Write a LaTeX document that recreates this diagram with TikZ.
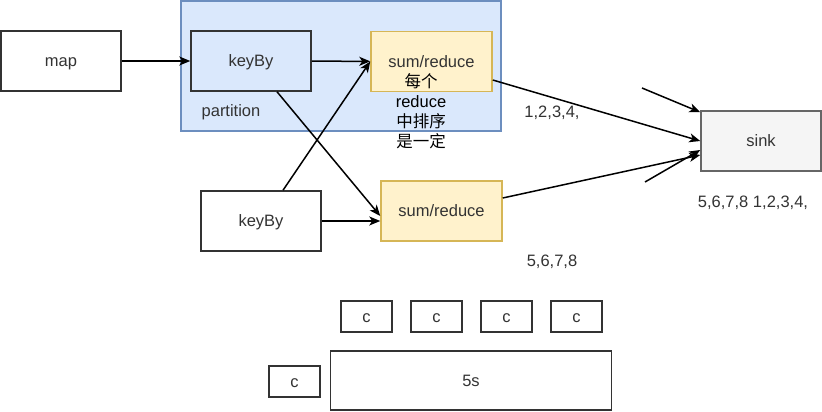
\documentclass[tikz,border=0pt]{standalone}
\usepackage{fontspec}
\setmainfont{Liberation Sans}
\newfontfamily\cjk{Noto Sans CJK SC}
\usetikzlibrary{arrows.meta,positioning}
\definecolor{partfill}{HTML}{DAE8FC}
\definecolor{partdraw}{HTML}{6C8EBF}
\definecolor{opfill}{HTML}{FFF2CC}
\definecolor{opdraw}{HTML}{D6B656}
\definecolor{sinkfill}{HTML}{F5F5F5}
\definecolor{sinkdraw}{HTML}{666666}
\tikzstyle{box}=[draw=black!80, line width=1.5pt, minimum width=120pt, minimum height=60pt, inner sep=0pt, text height=12pt, text depth=1pt, text=black!80, font=\fontsize{16.5}{19}\selectfont]
\tikzstyle{op}=[box, fill=opfill, draw=opdraw, minimum width=121pt]
\tikzstyle{cbox}=[box, minimum width=51pt, minimum height=31pt]
\tikzstyle{edge}=[draw, line width=1.5pt, -{Stealth[length=11pt,width=9pt,inset=3pt]}]
\tikzstyle{lbl}=[inner sep=0pt, text height=12pt, text depth=1pt, text=black!80, font=\fontsize{16.5}{19}\selectfont]
\tikzstyle{note}=[inner sep=0pt, align=center, text=black, font=\fontsize{16.5}{20}\selectfont]

\begin{document}
\begin{tikzpicture}[x=1pt,y=-1pt]
    \useasboundingbox (0,0) rectangle (822,412);
    % The partition group goes first, behind its nodes
    \node[draw=partdraw, fill=partfill, line width=1.2pt, minimum width=320pt, minimum height=130pt] (partition) at (341,66) {};
    \node[lbl] (partlbl) at (231,111) {partition};
    % Then the operators
    \node[box] (map) at (61,61) {map};
    \node[box, fill=partfill] (keyBy1) at (251,61) {keyBy};
    \node[box] (keyBy2) at (261,221) {keyBy};
    \node[op] (sum1) at (431.5,61.5) {sum/reduce};
    \node[op] (sum2) at (441.5,211) {sum/reduce};
    \node[box, fill=sinkfill, draw=sinkdraw] (sink) at (761,141) {sink};
    % Notes and orders
    \node[note] (sortnote) at (421,111) {{\cjk 每个}\\reduce\\{\cjk 中排序}\\{\cjk 是一定}};
    \node[lbl] (ord1) at (552,112) {1,2,3,4,};
    \node[lbl] (ord2) at (552,261) {5,6,7,8};
    \node[lbl] (ordsink) at (753,202) {5,6,7,8 1,2,3,4,};
    % Connect operators with edges
    \path[edge] (map) -- (keyBy1);
    \path[edge] (keyBy1) -- (sum1);
    \path[edge] ([xshift=22pt]keyBy2.north) -- (sum1.west);
    \path[edge] ([xshift=26pt]keyBy1.south) -- ([yshift=-5pt]sum2.west);
    \path[edge] (keyBy2.east) -- (keyBy2.east -| sum2.west);
    \path[edge] ([yshift=-18.5pt]sum1.east) -- (sink.west);
    \path[edge] ([yshift=13pt]sum2.east) -- ([yshift=-14pt]sink.west);
    % Loose inputs of the sink
    \coordinate (inTop) at (642,88);
    \coordinate (inBot) at (645,182);
    \path[edge] (inTop) -- ([yshift=-2pt]sink.north west);
    \path[edge] (inBot) -- ([yshift=-9pt]sink.west);
    % The window and its elements
    \foreach \x/\name in {366.5/c1, 436.5/c2, 506.5/c3, 576.5/c4}
        \node[cbox] (\name) at (\x,316.5) {c};
    \node[cbox] (c0) at (294.5,381.5) {c};
    \node[box, minimum width=281pt, minimum height=59pt] (window) at (471,380.5) {5s};
\end{tikzpicture}
\end{document}
